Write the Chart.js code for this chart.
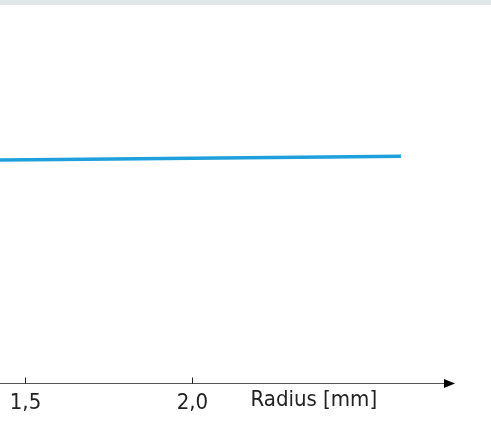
<!DOCTYPE html>
<html>
<head>
<meta charset="utf-8">
<script src="https://cdn.jsdelivr.net/npm/chart.js@4/dist/chart.umd.min.js"></script>
<style>
    html, body { margin: 0; padding: 0; background: #fff; }
    #wrap { position: relative; width: 491px; height: 423px; }
    #band { position: absolute; left: 0; top: 0; width: 491px; height: 5px; background: #e1e6e9; }
</style>
</head>
<body>
<div id="wrap">
    <canvas id="myChart" width="491" height="423"></canvas>
    <div id="band"></div>
</div>
<script>
// radius [mm] and curve values (y axis is not shown)
var radius = [1.2, 1.6, 2.0, 2.4, 2.624];
var values = [58.78, 59.10, 59.42, 59.74, 59.92];
var tickValues = [1.5, 2.0];
var axisTitle = 'Radius [mm]';

var fontFamily = '"DejaVu Sans Condensed", "Liberation Sans Narrow", sans-serif';
var fontSize = 22;

var points = [];
for (var i = 0; i < radius.length; i++) {
    points.push({ x: radius[i], y: values[i] });
}

// axis line with arrow, tick marks above the line, title next to the labels
var axisPlugin = {
    id: 'axisArrow',
    afterDraw: function(chart) {
        var ctx = chart.ctx;
        var area = chart.chartArea;
        var xs = chart.scales.x;
        var y = Math.round(area.bottom) + 0.5;
        ctx.save();
        ctx.strokeStyle = '#555';
        ctx.lineWidth = 1;
        ctx.beginPath();
        ctx.moveTo(area.left, y);
        ctx.lineTo(area.right - 10, y);
        ctx.stroke();

        ctx.fillStyle = '#000';
        ctx.beginPath();
        ctx.moveTo(area.right - 11, y - 4.5);
        ctx.lineTo(area.right, y);
        ctx.lineTo(area.right - 11, y + 4.5);
        ctx.closePath();
        ctx.fill();

        ctx.strokeStyle = '#222';
        tickValues.forEach(function(v) {
            var px = Math.round(xs.getPixelForValue(v)) + 0.5;
            ctx.beginPath();
            ctx.moveTo(px, y - 6);
            ctx.lineTo(px, y);
            ctx.stroke();
        });

        ctx.fillStyle = '#222';
        ctx.font = fontSize + 'px ' + fontFamily;
        ctx.textAlign = 'left';
        ctx.textBaseline = 'top';
        ctx.fillText(axisTitle, xs.getPixelForValue(2.0) + 58, area.bottom + 7);
        ctx.restore();
    }
};

var myChart = new Chart(document.getElementById('myChart'), {
    type: 'line',
    data: {
        datasets: [{
            data: points,
            borderColor: '#1fa0dc',
            borderWidth: 3.5,
            pointRadius: 0,
            tension: 0,
            fill: false
        }]
    },
    options: {
        responsive: false,
        animation: false,
        layout: { padding: { left: 0, right: 36, top: 5, bottom: 0 } },
        plugins: { legend: { display: false }, tooltip: { enabled: false } },
        scales: {
            x: {
                type: 'linear',
                min: 1.4237,
                max: 2.786,
                afterBuildTicks: function(scale) {
                    scale.ticks = tickValues.map(function(v) { return { value: v }; });
                },
                grid: { display: false, drawTicks: false },
                border: { display: false },
                ticks: {
                    padding: 7,
                    maxRotation: 0,
                    color: '#222',
                    font: { family: fontFamily, size: fontSize },
                    callback: function(v) { return Number(v).toFixed(1).replace('.', ','); }
                }
            },
            y: {
                display: false,
                min: 0,
                max: 100
            }
        }
    },
    plugins: [axisPlugin]
});
</script>
</body>
</html>
